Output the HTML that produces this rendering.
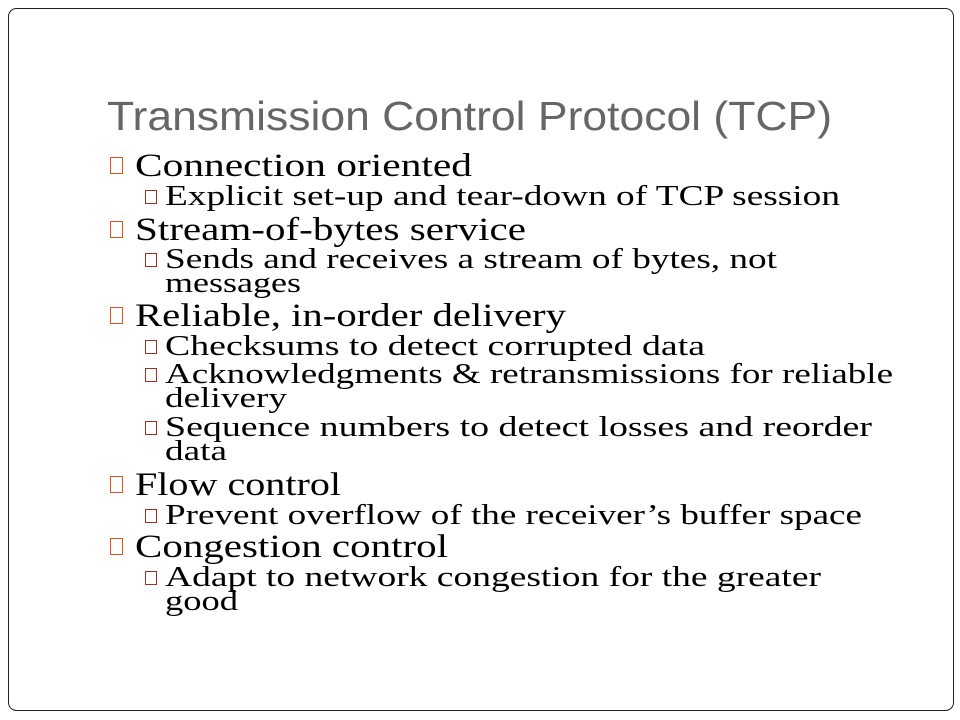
<!DOCTYPE html>
<html><head><style>
html,body{margin:0;padding:0;background:#fff;width:960px;height:720px;overflow:hidden}
.s{font-family:"Liberation Serif","Times New Roman",serif}
</style></head><body>
<svg width="960" height="720" xmlns="http://www.w3.org/2000/svg">
<rect x="8.5" y="8.5" width="945" height="702" rx="8" fill="#fff" stroke="#222" stroke-width="1"/>
<text x="107" y="130" style="font-family:'Liberation Sans',sans-serif" font-size="41" fill="#666" textLength="725" lengthAdjust="spacingAndGlyphs">Transmission Control Protocol (TCP)</text>
<g class="s" fill="#000">
<text x="135" y="176" font-size="33" textLength="337" lengthAdjust="spacingAndGlyphs">Connection oriented</text>
<text x="165" y="205" font-size="29" textLength="675" lengthAdjust="spacingAndGlyphs">Explicit set-up and tear-down of TCP session</text>
<text x="135" y="240" font-size="33" textLength="391" lengthAdjust="spacingAndGlyphs">Stream-of-bytes service</text>
<text x="165" y="268" font-size="29" textLength="612" lengthAdjust="spacingAndGlyphs">Sends and receives a stream of bytes, not</text>
<text x="165" y="292" font-size="29" textLength="136" lengthAdjust="spacingAndGlyphs">messages</text>
<text x="135" y="326" font-size="33" textLength="431" lengthAdjust="spacingAndGlyphs">Reliable, in-order delivery</text>
<text x="165" y="355" font-size="29" textLength="540" lengthAdjust="spacingAndGlyphs">Checksums to detect corrupted data</text>
<text x="165" y="383" font-size="29" textLength="728" lengthAdjust="spacingAndGlyphs">Acknowledgments &amp; retransmissions for reliable</text>
<text x="165" y="407" font-size="29" textLength="122" lengthAdjust="spacingAndGlyphs">delivery</text>
<text x="165" y="436" font-size="29" textLength="707" lengthAdjust="spacingAndGlyphs">Sequence numbers to detect losses and reorder</text>
<text x="165" y="460" font-size="29" textLength="62" lengthAdjust="spacingAndGlyphs">data</text>
<text x="135" y="495" font-size="33" textLength="206" lengthAdjust="spacingAndGlyphs">Flow control</text>
<text x="165" y="524" font-size="29" textLength="697" lengthAdjust="spacingAndGlyphs">Prevent overflow of the receiver’s buffer space</text>
<text x="135" y="557" font-size="33" textLength="313" lengthAdjust="spacingAndGlyphs">Congestion control</text>
<text x="165" y="586" font-size="29" textLength="656" lengthAdjust="spacingAndGlyphs">Adapt to network congestion for the greater</text>
<text x="165" y="610" font-size="29" textLength="73" lengthAdjust="spacingAndGlyphs">good</text>
</g>
<g fill="none" stroke="#d9531e" stroke-width="1">
<rect x="110.5" y="157.5" width="12" height="16"/>
<rect x="110.5" y="221.5" width="12" height="16"/>
<rect x="110.5" y="307.5" width="12" height="16"/>
<rect x="110.5" y="476.5" width="12" height="16"/>
<rect x="110.5" y="538.5" width="12" height="16"/>
</g>
<g fill="none" stroke="#a03020" stroke-width="1">
<rect x="145.5" y="190.5" width="11" height="13"/>
<rect x="145.5" y="253.5" width="11" height="13"/>
<rect x="145.5" y="340.5" width="11" height="13"/>
<rect x="145.5" y="368.5" width="11" height="13"/>
<rect x="145.5" y="421.5" width="11" height="13"/>
<rect x="145.5" y="509.5" width="11" height="13"/>
<rect x="145.5" y="571.5" width="11" height="13"/>
</g>
</svg>
</body></html>
